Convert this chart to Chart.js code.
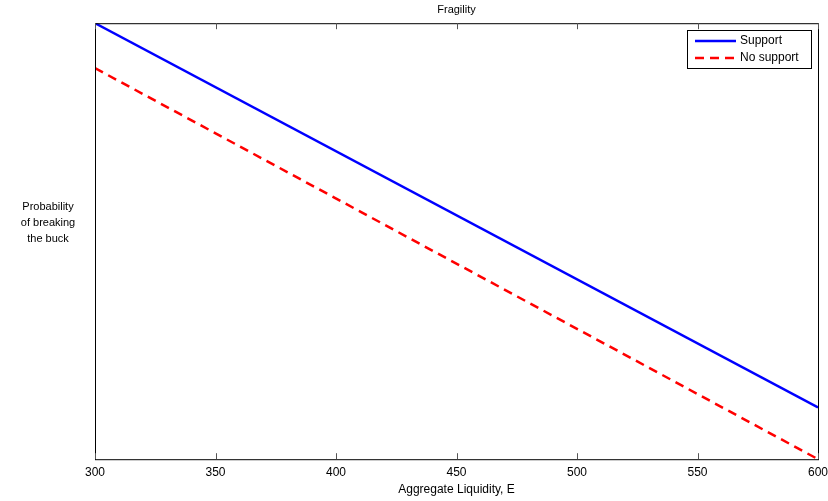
<!DOCTYPE html>
<html>
<head>
<meta charset="utf-8">
<script src="https://cdn.jsdelivr.net/npm/chart.js@4"></script>
<style>
  html, body { margin: 0; padding: 0; background: #fff; }
  #wrap { position: relative; width: 828px; height: 501px; }
</style>
</head>
<body>
<div id="wrap"><canvas id="fragChart" width="828" height="501"></canvas></div>
<script>
// data (y is unitless, 0..1 of the axis)
const liquidity = [300, 600];
const supportProb = [1.0, 0.119];
const noSupportProb = [0.897, 0.0];
const xTicks = [300, 350, 400, 450, 500, 550, 600];
const yLabelLines = ['Probability', 'of breaking', 'the buck'];

const FONT = '"Liberation Sans", Arial, Helvetica, sans-serif';

// frame, inward ticks, y label and legend
const extrasPlugin = {
  id: 'extras',
  afterDraw(chart) {
    const ctx = chart.ctx;
    const a = chart.chartArea;
    const xs = chart.scales.x;
    ctx.save();
    ctx.strokeStyle = '#000';
    ctx.lineWidth = 1;
    ctx.strokeRect(a.left + 0.5, a.top + 0.5, a.right - a.left, a.bottom - a.top);

    // ticks pointing into the plot, top and bottom
    ctx.beginPath();
    xTicks.forEach(v => {
      const px = Math.round(xs.getPixelForValue(v)) + 0.5;
      ctx.moveTo(px, a.bottom);
      ctx.lineTo(px, a.bottom - 6);
      ctx.moveTo(px, a.top);
      ctx.lineTo(px, a.top + 6);
    });
    ctx.strokeStyle = '#555';
    ctx.stroke();

    // y label, horizontal
    ctx.fillStyle = '#000';
    ctx.font = '11px ' + FONT;
    ctx.textAlign = 'center';
    ctx.textBaseline = 'middle';
    yLabelLines.forEach((t, i) => ctx.fillText(t, 48, 207 + i * 16));

    // legend box
    const bx = 687, by = 30, bw = 124, bh = 38;
    ctx.fillStyle = '#fff';
    ctx.fillRect(bx, by, bw, bh);
    ctx.strokeStyle = '#000';
    ctx.strokeRect(bx + 0.5, by + 0.5, bw, bh);
    chart.data.datasets.forEach((ds, i) => {
      const ly = by + 11 + i * 17;
      ctx.beginPath();
      ctx.strokeStyle = ds.borderColor;
      ctx.lineWidth = 2.5;
      ctx.setLineDash(ds.borderDash || []);
      ctx.moveTo(bx + 8, ly);
      ctx.lineTo(bx + 49, ly);
      ctx.stroke();
      ctx.setLineDash([]);
      ctx.fillStyle = '#000';
      ctx.font = '12px ' + FONT;
      ctx.textAlign = 'left';
      ctx.fillText(ds.label, bx + 53, ly);
    });
    ctx.restore();
  }
};

new Chart(document.getElementById('fragChart'), {
  type: 'line',
  data: {
    datasets: [{
      label: 'Support',
      data: liquidity.map((x, i) => ({ x: x, y: supportProb[i] })),
      borderColor: '#0000ff',
      borderWidth: 2.5,
      pointRadius: 0,
      fill: false,
    }, {
      label: 'No support',
      data: liquidity.map((x, i) => ({ x: x, y: noSupportProb[i] })),
      borderColor: '#ff0000',
      borderWidth: 2.5,
      borderDash: [9, 6],
      pointRadius: 0,
      fill: false,
    }],
  },
  options: {
    responsive: false,
    animation: false,
    layout: { padding: { left: 95, right: 10, top: 0, bottom: 4 } },
    plugins: {
      legend: { display: false },
      tooltip: { enabled: false },
      title: {
        display: true,
        text: 'Fragility',
        color: '#000',
        fullSize: false,
        font: { family: FONT, size: 11, weight: 'normal' },
        padding: { top: 3, bottom: 7 },
      },
    },
    scales: {
      x: {
        type: 'linear',
        min: 300,
        max: 600,
        afterBuildTicks: s => { s.ticks = xTicks.map(v => ({ value: v })); },
        afterFit: s => { s.paddingLeft = 0; s.paddingRight = 0; },
        grid: { display: false, drawTicks: false },
        border: { display: false },
        ticks: { color: '#000', font: { family: FONT, size: 12 }, padding: 6, maxRotation: 0 },
        title: {
          display: true,
          text: 'Aggregate Liquidity, E',
          color: '#000',
          font: { family: FONT, size: 12 },
          padding: { top: -3, bottom: 0 },
        },
      },
      y: {
        display: false,
        min: 0,
        max: 1,
      },
    },
  },
  plugins: [extrasPlugin],
});
</script>
</body>
</html>
